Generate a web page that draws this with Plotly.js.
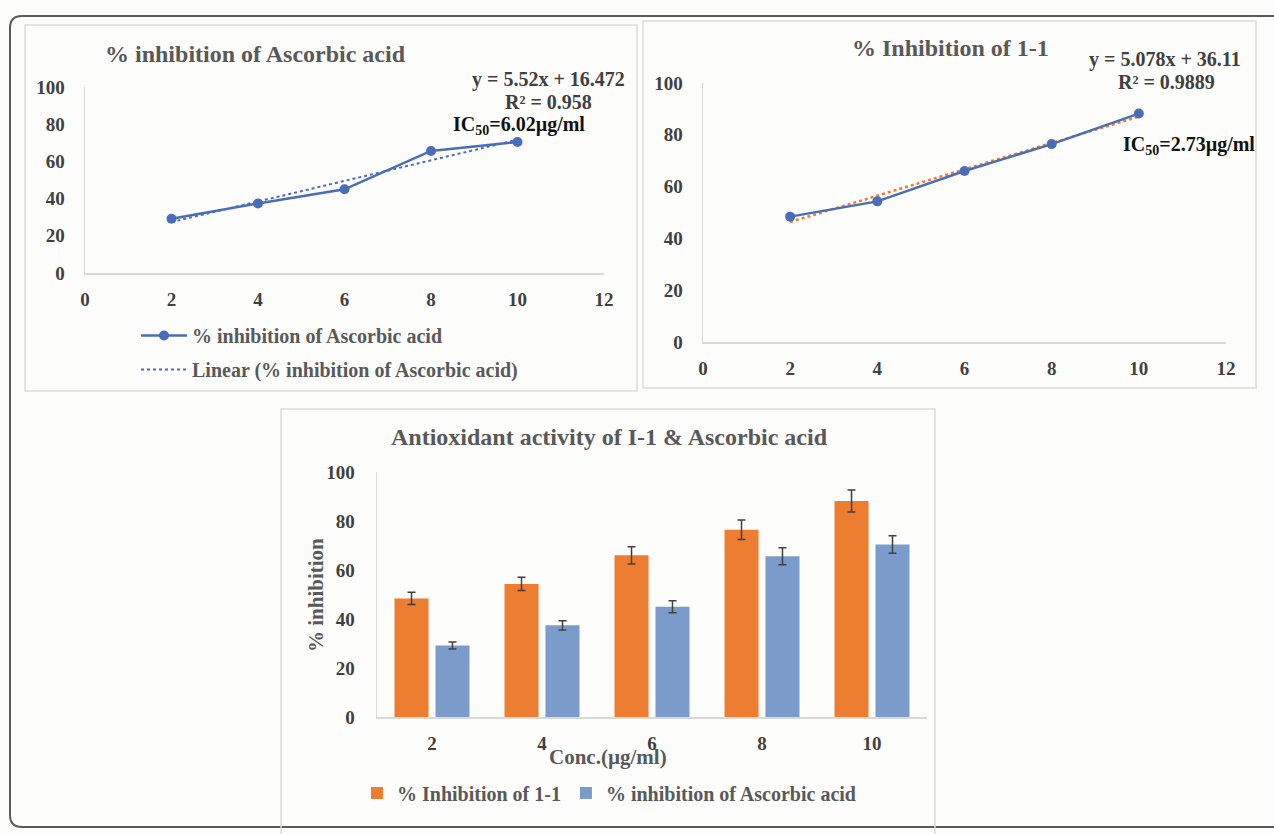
<!DOCTYPE html>
<html>
<head>
<meta charset="utf-8">
<script src="https://cdn.plot.ly/plotly-3.0.1.min.js"></script>
<style>html,body{margin:0;padding:0;background:#fdfdfb;}#chart{width:1274px;height:834px;}</style>
</head>
<body>
<div id="chart"></div>
<script>
// ---- data ----
const conc = [2, 4, 6, 8, 10];
const concLabels = ['2', '4', '6', '8', '10'];
const ascorbic = [29.2, 37.4, 45.0, 65.6, 70.4];
const ascorbicErr = [1.4, 1.9, 2.4, 3.5, 3.6];
const i1 = [48.4, 54.3, 66.0, 76.4, 88.2];
const i1Err = [2.5, 2.7, 3.5, 4.0, 4.5];
const nameAsc = '% inhibition of Ascorbic acid';
const nameI1 = '% Inhibition of 1-1';
const eqAsc = ['y = 5.52x + 16.472', 'R² = 0.958'];
const eqI1 = ['y = 5.078x + 36.11', 'R² = 0.9889'];
const ic50Asc = 'IC<sub>50</sub>=6.02µg/ml';
const ic50I1 = 'IC<sub>50</sub>=2.73µg/ml';

// ---- helpers ----
const W = 1274, H = 834;
const X = p => p / W;
const Y = p => 1 - p / H;
function linfit(xs, ys) {
  const n = xs.length;
  const mx = xs.reduce((a, b) => a + b, 0) / n;
  const my = ys.reduce((a, b) => a + b, 0) / n;
  let sxy = 0, sxx = 0;
  for (let i = 0; i < n; i++) { sxy += (xs[i] - mx) * (ys[i] - my); sxx += (xs[i] - mx) ** 2; }
  const m = sxy / sxx;
  return { m: m, b: my - m * mx };
}
const fitAsc = linfit(conc, ascorbic);
const fitI1 = linfit(conc, i1);
const ends = [conc[0], conc[conc.length - 1]];

const FONT = 'Liberation Serif, Times New Roman, serif';
const lineBlue = '#4a6cba';
const orange = '#ed7d31';
const barBlue = '#7b9ccb';
const tickColor = '#404040';
const titleColor = '#595959';
const axisLineColor = '#d9d9d9';

const traces = [
  { x: conc, y: ascorbic, type: 'scatter', mode: 'lines+markers', name: nameAsc,
    line: { color: lineBlue, width: 2.5 }, marker: { color: lineBlue, size: 10 },
    xaxis: 'x', yaxis: 'y', legend: 'legend', legendgroup: 'a' },
  { x: ends, y: ends.map(v => fitAsc.m * v + fitAsc.b), type: 'scatter', mode: 'lines',
    name: 'Linear (' + nameAsc + ')', line: { color: lineBlue, width: 2, dash: 'dot' },
    xaxis: 'x', yaxis: 'y', legend: 'legend', legendgroup: 'b' },
  { x: ends, y: ends.map(v => fitI1.m * v + fitI1.b), type: 'scatter', mode: 'lines',
    name: 'Linear (' + nameI1 + ')', line: { color: orange, width: 2.5, dash: 'dot' },
    xaxis: 'x2', yaxis: 'y2', showlegend: false },
  { x: conc, y: i1, type: 'scatter', mode: 'lines+markers', name: nameI1,
    line: { color: lineBlue, width: 2.5 }, marker: { color: lineBlue, size: 10 },
    xaxis: 'x2', yaxis: 'y2', showlegend: false },
  { x: concLabels, y: i1, type: 'bar', name: nameI1, marker: { color: orange },
    error_y: { type: 'data', array: i1Err, visible: true, color: '#404040', thickness: 1.5, width: 4 },
    xaxis: 'x3', yaxis: 'y3', legend: 'legend2' },
  { x: concLabels, y: ascorbic, type: 'bar', name: nameAsc, marker: { color: barBlue },
    error_y: { type: 'data', array: ascorbicErr, visible: true, color: '#404040', thickness: 1.5, width: 4 },
    xaxis: 'x3', yaxis: 'y3', legend: 'legend2' }
];

const tickFont = { family: FONT, size: 19, color: tickColor, weight: 'bold' };
function numAxisX(domain, anchor) {
  return { domain: domain, anchor: anchor, range: [0, 12], dtick: 2, tick0: 0,
    showgrid: false, zeroline: false, showline: true, linecolor: axisLineColor, linewidth: 1.5,
    ticks: '', tickfont: tickFont, ticklabelstandoff: 9, fixedrange: true };
}
function numAxisY(domain, anchor) {
  return { domain: domain, anchor: anchor, range: [0, 100], dtick: 20, tick0: 0,
    showgrid: false, zeroline: false, showline: true, linecolor: axisLineColor, linewidth: 1.5,
    ticks: '', tickfont: tickFont, ticklabelstandoff: 15, fixedrange: true };
}

function rect(x0, y0, x1, y1, color, width) {
  return { type: 'rect', xref: 'paper', yref: 'paper', x0: X(x0), x1: X(x1), y0: Y(y1), y1: Y(y0),
    line: { color: color, width: width }, fillcolor: 'rgba(0,0,0,0)', layer: 'below' };
}
function roundRect(x0, y0, x1, y1, r, color, width) {
  const p = (x, y) => X(x) + ',' + Y(y);
  const path = 'M ' + p(x0 + r, y0) + ' L ' + p(x1 - r, y0) + ' Q ' + p(x1, y0) + ' ' + p(x1, y0 + r) +
    ' L ' + p(x1, y1 - r) + ' Q ' + p(x1, y1) + ' ' + p(x1 - r, y1) +
    ' L ' + p(x0 + r, y1) + ' Q ' + p(x0, y1) + ' ' + p(x0, y1 - r) +
    ' L ' + p(x0, y0 + r) + ' Q ' + p(x0, y0) + ' ' + p(x0 + r, y0) + ' Z';
  return { type: 'path', xref: 'paper', yref: 'paper', path: path,
    line: { color: color, width: width }, fillcolor: 'rgba(0,0,0,0)', layer: 'below' };
}

function ann(text, px, py, size, color, opts) {
  return Object.assign({ text: text, x: X(px), y: Y(py), xref: 'paper', yref: 'paper',
    showarrow: false, xanchor: 'center', yanchor: 'middle',
    font: { family: FONT, size: size, color: color, weight: 'bold' } }, opts || {});
}

const layout = {
  width: W, height: H,
  margin: { l: 0, r: 0, t: 0, b: 0 },
  paper_bgcolor: '#fdfdfb', plot_bgcolor: 'rgba(0,0,0,0)',
  font: { family: FONT },
  xaxis: numAxisX([X(85), X(604)], 'y'),
  yaxis: numAxisY([Y(273), Y(87)], 'x'),
  xaxis2: numAxisX([X(703), X(1226)], 'y2'),
  yaxis2: numAxisY([Y(342), Y(83)], 'x2'),
  xaxis3: { domain: [X(377), X(927)], anchor: 'y3', type: 'category', showgrid: false, zeroline: false,
    showline: true, linecolor: axisLineColor, linewidth: 1.5, ticks: '', tickfont: tickFont,
    ticklabelstandoff: 9, fixedrange: true },
  yaxis3: { domain: [Y(717), Y(472)], anchor: 'x3', range: [0, 100], dtick: 20, showgrid: false, zeroline: false,
    showline: true, linecolor: axisLineColor, linewidth: 1.5, ticks: '', tickfont: tickFont,
    ticklabelstandoff: 17, fixedrange: true },
  barmode: 'group', bargap: 0.255, bargroupgap: 0.17,
  legend: { x: X(136), y: Y(316), xanchor: 'left', yanchor: 'top', orientation: 'v',
    font: { family: FONT, size: 20, color: titleColor, weight: 'bold' }, bgcolor: 'rgba(0,0,0,0)',
    itemwidth: 46, tracegroupgap: 5, traceorder: 'grouped' },
  legend2: { x: X(609), y: Y(793), xanchor: 'center', yanchor: 'middle', orientation: 'h',
    font: { family: FONT, size: 20, color: titleColor, weight: 'bold' }, bgcolor: 'rgba(0,0,0,0)',
    itemwidth: 30 },
  shapes: [
    roundRect(10, 16, 1300, 827, 12, '#5a5a5a', 2),
    rect(25, 25, 637, 391, '#dcdcdc', 1.5),
    rect(643, 21, 1256, 388, '#dcdcdc', 1.5),
    rect(281, 409, 935, 850, '#dcdcdc', 1.5)
  ],
  annotations: [
    ann(nameAsc, 255, 54, 24, titleColor),
    ann(eqAsc[0], 548, 80, 20, tickColor),
    ann(eqAsc[1], 548, 102, 20, tickColor),
    ann(ic50Asc, 451, 126, 20, '#111', { xanchor: 'left' }),
    ann(nameI1, 950, 48, 24, titleColor),
    ann(eqI1[0], 1165, 59, 20, tickColor),
    ann(eqI1[1], 1166, 82, 20, tickColor),
    ann(ic50I1, 1121, 145, 20, '#111', { xanchor: 'left' }),
    ann('Antioxidant activity of I-1 &amp; Ascorbic acid', 609, 437, 24, titleColor),
    ann('% inhibition', 316, 595, 21, titleColor, { textangle: -90 }),
    ann('Conc.(µg/ml)', 608, 757, 21, titleColor)
  ]
};

Plotly.newPlot('chart', traces, layout, { displayModeBar: false, staticPlot: true });
</script>
</body>
</html>
